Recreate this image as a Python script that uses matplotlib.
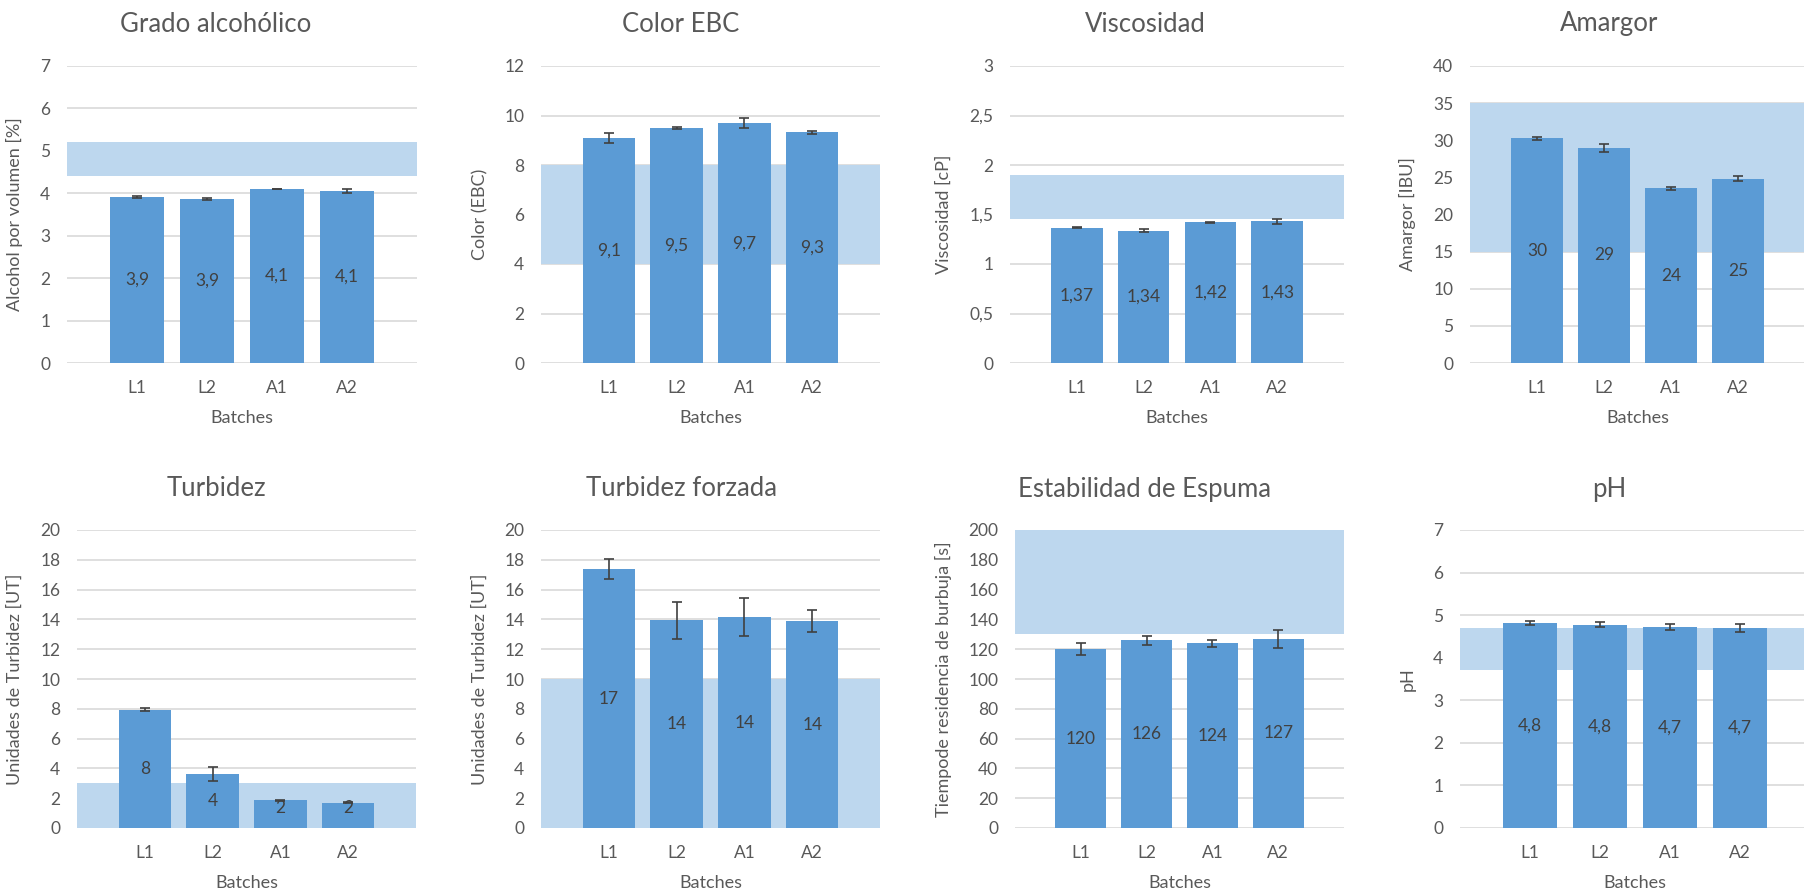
import numpy as np
import matplotlib.pyplot as plt

plt.rcParams['font.family'] = ['Lato', 'DejaVu Sans']

batches = ['L1', 'L2', 'A1', 'A2']

titles = ['Grado alcohólico', 'Color EBC', 'Viscosidad', 'Amargor',
          'Turbidez', 'Turbidez forzada', 'Estabilidad de Espuma', 'pH']
ylabels = ['Alcohol por volumen [%]', 'Color (EBC)', 'Viscosidad [cP]', 'Amargor [IBU]',
           'Unidades de Turbidez [UT]', 'Unidades de Turbidez [UT]',
           'Tiempode residencia de burbuja [s]', 'pH']

alcohol = [3.92, 3.87, 4.10, 4.06]
alcohol_err = [0.02, 0.03, 0.01, 0.05]
color_ebc = [9.09, 9.49, 9.68, 9.32]
color_err = [0.2, 0.04, 0.2, 0.07]
viscosidad = [1.367, 1.336, 1.421, 1.431]
visc_err = [0.005, 0.015, 0.005, 0.025]
amargor = [30.3, 28.96, 23.55, 24.8]
amargor_err = [0.2, 0.5, 0.2, 0.35]
turbidez = [7.93, 3.63, 1.86, 1.70]
turb_err = [0.1, 0.45, 0.05, 0.05]
turb_forzada = [17.36, 13.95, 14.16, 13.87]
turbf_err = [0.68, 1.25, 1.26, 0.74]
espuma = [119.9, 125.9, 123.9, 127.0]
espuma_err = [4, 3, 2.5, 6]
ph = [4.81, 4.78, 4.72, 4.70]
ph_err = [0.05, 0.07, 0.07, 0.09]

# rango recomendado (banda azul claro)
bands = [(4.4, 5.2), (4, 8), (1.45, 1.9), (15, 35), (0, 3), (0, 10), (130, 200), (3.7, 4.7)]
ymaxs = [7, 12, 3, 40, 20, 20, 200, 7]
ysteps = [1, 2, 0.5, 5, 2, 2, 20, 1]
decimals = [1, 1, 2, 0, 0, 0, 0, 1]

values = [alcohol, color_ebc, viscosidad, amargor, turbidez, turb_forzada, espuma, ph]
errors = [alcohol_err, color_err, visc_err, amargor_err, turb_err, turbf_err, espuma_err, ph_err]

W, H = 1804, 892
# plot areas in pixels: left, right, top, bottom
boxes = [(67, 417, 66, 363), (541, 880, 66, 363), (1010, 1344, 66, 363), (1470, 1805, 66, 363),
         (77, 416, 530, 828), (541, 880, 530, 828), (1015, 1344, 530, 828), (1460, 1810, 530, 828)]
title_x = [216, 681, 1145, 1609]
title_y = [24, 489]
ylab_x = [23, 488, 952, 1416]

bar_c = '#5B9BD5'
band_c = '#BDD7EE'
txt_c = '#595959'

fig = plt.figure(figsize=(W / 100, H / 100), dpi=100)

def fmt(v, d):
    return f'{v:.{d}f}'.replace('.', ',')

for i in range(8):
    l, r, t, b = boxes[i]
    ax = fig.add_axes([l / W, 1 - b / H, (r - l) / W, (b - t) / H])
    x = np.arange(1, 5)
    ax.axhspan(bands[i][0], bands[i][1], color=band_c, zorder=1, lw=0)
    ax.bar(x, values[i], width=0.77, color=bar_c, zorder=2)
    ax.errorbar(x, values[i], yerr=errors[i], fmt='none', ecolor='#404040',
                elinewidth=1.2, capsize=3.6, capthick=1.2, zorder=3)
    ymax = ymaxs[i]
    for xi, v in zip(x, values[i]):
        ax.text(xi, max(v / 2, ymax * 0.067), fmt(v, decimals[i]), ha='center', va='center',
                fontsize=12.5, color='#404040', zorder=4)
    ax.set_xlim(0, 5)
    ax.set_ylim(0, ymax)
    ticks = np.arange(0, ymax + ysteps[i] / 2, ysteps[i])
    ax.set_yticks(ticks)
    ax.set_yticklabels([fmt(t_, 1 if ysteps[i] < 1 and t_ % 1 else 0) for t_ in ticks])
    ax.set_xticks(x)
    ax.set_xticklabels(batches)
    ax.tick_params(length=0, labelsize=12.5, labelcolor=txt_c)
    ax.tick_params(axis='y', pad=12)
    ax.tick_params(axis='x', pad=12)
    ax.grid(axis='y', color='#D9D9D9', lw=1.2, zorder=0)
    ax.set_axisbelow(True)
    for s in ax.spines.values():
        s.set_visible(False)
    ax.set_xlabel('Batches', fontsize=13, color=txt_c, labelpad=10)
    ax.set_ylabel(ylabels[i], fontsize=13, color=txt_c)
    ax.yaxis.set_label_coords(ylab_x[i % 4] / W, 1 - (t + b) / 2 / H, transform=fig.transFigure)
    fig.text(title_x[i % 4] / W, 1 - title_y[i // 4] / H, titles[i], ha='center', va='center',
             fontsize=18.5, color=txt_c)

fig.savefig('out.png', dpi=100)
